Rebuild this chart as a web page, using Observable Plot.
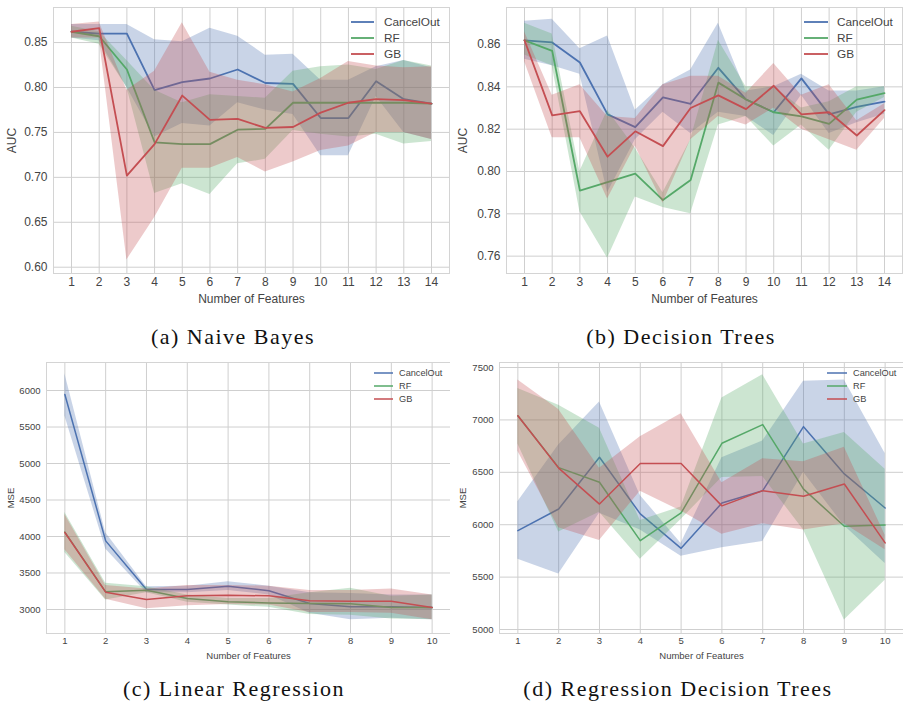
<!DOCTYPE html>
<html>
<head>
<meta charset="utf-8">
<script src="https://cdn.jsdelivr.net/npm/d3@7"></script>
<script src="https://cdn.jsdelivr.net/npm/@observablehq/plot@0.6"></script>
<style>
  html, body { margin: 0; padding: 0; background: #fff; }
  #wrap { position: relative; width: 903px; height: 704px; overflow: hidden; }
  .panel { position: absolute; }
  .caption { position: absolute; font-family: "Liberation Serif", "DejaVu Serif", serif; color: #111; text-align: center; white-space: nowrap; letter-spacing: 1.5px; }
  .legend { position: absolute; }
</style>
</head>
<body>
<div id="wrap"></div>
<script>
// ---------- shared ----------
const seriesNames = ["CancelOut", "RF", "GB"];
const seriesColors = ["#4C72B0", "#55A868", "#C44E52"];

// ---------- (a) Naive Bayes : AUC ----------
const nbX = [1,2,3,4,5,6,7,8,9,10,11,12,13,14];
const nbYTicks = [0.60, 0.65, 0.70, 0.75, 0.80, 0.85];
const nbCancelOut   = [0.862,0.860,0.860,0.797,0.806,0.810,0.820,0.805,0.804,0.766,0.766,0.807,0.787,0.782];
const nbCancelOutLo = [0.855,0.852,0.800,0.745,0.760,0.757,0.783,0.775,0.770,0.724,0.724,0.790,0.750,0.742];
const nbCancelOutHi = [0.870,0.870,0.870,0.853,0.851,0.866,0.857,0.836,0.837,0.808,0.808,0.823,0.830,0.822];
const nbRF   = [0.862,0.857,0.820,0.739,0.737,0.737,0.753,0.754,0.783,0.783,0.783,0.783,0.783,0.782];
const nbRFLo = [0.855,0.848,0.800,0.682,0.693,0.681,0.715,0.720,0.752,0.748,0.745,0.748,0.737,0.740];
const nbRFHi = [0.868,0.862,0.830,0.797,0.783,0.792,0.790,0.788,0.818,0.823,0.825,0.820,0.830,0.824];
const nbGB   = [0.862,0.866,0.702,0.737,0.791,0.764,0.765,0.755,0.756,0.772,0.783,0.787,0.786,0.782];
const nbGBLo = [0.855,0.855,0.608,0.655,0.710,0.710,0.722,0.706,0.717,0.730,0.735,0.750,0.750,0.742];
const nbGBHi = [0.870,0.873,0.797,0.818,0.872,0.817,0.808,0.803,0.795,0.810,0.829,0.824,0.822,0.823];

// ---------- (b) Decision Trees : AUC ----------
const dtX = [1,2,3,4,5,6,7,8,9,10,11,12,13,14];
const dtYTicks = [0.76, 0.78, 0.80, 0.82, 0.84, 0.86];
const dtCancelOut   = [0.862,0.861,0.8515,0.827,0.821,0.835,0.832,0.849,0.834,0.828,0.844,0.827,0.8305,0.833];
const dtCancelOutLo = [0.853,0.850,0.846,0.790,0.815,0.828,0.818,0.828,0.826,0.817,0.836,0.818,0.823,0.827];
const dtCancelOutHi = [0.871,0.872,0.858,0.864,0.829,0.841,0.848,0.870,0.838,0.840,0.846,0.838,0.838,0.840];
const dtRF   = [0.862,0.857,0.791,0.795,0.799,0.7865,0.796,0.842,0.834,0.828,0.826,0.8225,0.834,0.837];
const dtRFLo = [0.855,0.850,0.781,0.759,0.788,0.783,0.780,0.822,0.826,0.812,0.822,0.810,0.828,0.835];
const dtRFHi = [0.870,0.865,0.800,0.829,0.811,0.790,0.815,0.862,0.840,0.840,0.830,0.833,0.840,0.840];
const dtGB   = [0.862,0.8265,0.8285,0.807,0.819,0.812,0.830,0.836,0.8295,0.8405,0.827,0.828,0.817,0.829];
const dtGBLo = [0.852,0.816,0.816,0.787,0.812,0.785,0.815,0.826,0.822,0.830,0.820,0.815,0.810,0.825];
const dtGBHi = [0.866,0.836,0.841,0.826,0.825,0.841,0.845,0.845,0.837,0.851,0.836,0.841,0.824,0.832];

// ---------- (c) Linear Regression : MSE ----------
const lrX = [1,2,3,4,5,6,7,8,9,10];
const lrYTicks = [3000, 3500, 4000, 4500, 5000, 5500, 6000];
const lrCancelOut   = [5945,3940,3274,3274,3320,3256,3082,3037,3037,3027];
const lrCancelOutLo = [5650,3830,3230,3230,3260,3200,2950,2860,2880,2860];
const lrCancelOutHi = [6230,4050,3310,3320,3380,3320,3230,3220,3200,3200];
const lrRF   = [4060,3242,3265,3150,3105,3090,3082,3080,3027,3027];
const lrRFLo = [3780,3130,3230,3100,3060,3030,2930,2920,2870,2860];
const lrRFHi = [4330,3360,3310,3200,3150,3150,3230,3290,3180,3200];
const lrGB   = [4055,3237,3137,3187,3196,3187,3119,3114,3114,3027];
const lrGBLo = [3820,3140,3010,3050,3070,3060,2960,2960,2950,2860];
const lrGBHi = [4300,3330,3280,3330,3330,3320,3260,3260,3280,3200];

// ---------- (d) Regression Decision Trees : MSE ----------
const rdX = [1,2,3,4,5,6,7,8,9,10];
const rdYTicks = [5000, 5500, 6000, 6500, 7000, 7500];
const rdCancelOut   = [5944,6150,6644,6103,5775,6207,6325,6936,6485,6160];
const rdCancelOutLo = [5670,5530,6110,5950,5700,5780,5840,6500,5990,5630];
const rdCancelOutHi = [6220,6760,7170,6280,5820,6640,6800,7370,7380,6680];
const rdRF   = [7040,6545,6405,5848,6112,6777,6955,6340,5985,5998];
const rdRFLo = [6770,5930,6120,5670,6050,6450,6460,5950,5090,5470];
const rdRFHi = [7300,7140,6920,6040,6170,7210,7430,6770,6880,6530];
const rdGB   = [7040,6540,6197,6585,6585,6180,6325,6272,6389,5827];
const rdGBLo = [6700,5970,5850,6320,6130,5910,6010,5950,6010,5760];
const rdGBHi = [7380,7100,6540,6840,7060,6400,6630,6600,6740,5900];

// ---------- builder ----------
const wrap = document.getElementById("wrap");
const SVGNS = "http://www.w3.org/2000/svg";

function panel(cfg) {
  const marks = [
    Plot.gridX(cfg.x, {stroke: "#cfcfcf", strokeOpacity: 1, strokeWidth: 1}),
    Plot.gridY(cfg.yTicks, {stroke: "#cfcfcf", strokeOpacity: 1, strokeWidth: 1}),
    Plot.frame({stroke: "#d4d4d4", strokeWidth: 1})
  ];
  cfg.series.forEach((s, i) => {
    marks.push(Plot.areaY(cfg.x, {x: cfg.x, y1: s.lo, y2: s.hi, fill: seriesColors[i], fillOpacity: 0.3, curve: "linear"}));
    marks.push(Plot.lineY(cfg.x, {x: cfg.x, y: s.mean, stroke: seriesColors[i], strokeWidth: cfg.lw, curve: "linear"}));
  });
  marks.push(Plot.axisX(cfg.x, {tickSize: 0, tickPadding: cfg.tickPad, tickFormat: d => String(d),
    label: "Number of Features", labelAnchor: "center", labelArrow: "none", labelOffset: cfg.xLabelOffset,
    fontSize: cfg.tickFont, fill: "#444"}));
  marks.push(Plot.axisY(cfg.yTicks, {tickSize: 0, tickPadding: cfg.tickPad + 2, tickFormat: cfg.yFmt,
    label: cfg.yLabel, labelAnchor: "center", labelArrow: "none", labelOffset: cfg.yLabelOffset,
    fontSize: cfg.tickFont, fill: "#444"}));
  const svg = Plot.plot({
    width: cfg.width, height: cfg.height,
    marginLeft: cfg.ml, marginRight: cfg.mr, marginTop: cfg.mt, marginBottom: cfg.mb,
    style: {fontFamily: "'Liberation Sans', Arial, sans-serif", fontSize: cfg.labelFont + "px", color: "#444", background: "transparent"},
    x: {domain: cfg.xDomain},
    y: {domain: cfg.yDomain},
    marks
  });
  const div = document.createElement("div");
  div.className = "panel";
  div.style.left = cfg.left + "px";
  div.style.top = cfg.top + "px";
  div.appendChild(svg);
  wrap.appendChild(div);

  // legend (inline SVG overlay)
  const L = cfg.legend;
  const lg = document.createElementNS(SVGNS, "svg");
  lg.setAttribute("class", "legend");
  lg.setAttribute("width", 100);
  lg.setAttribute("height", 3 * L.dy + 10);
  lg.style.left = (cfg.left + L.x) + "px";
  lg.style.top = (cfg.top + L.y - 8) + "px";
  lg.style.position = "absolute";
  seriesNames.forEach((name, i) => {
    const y = 8 + i * L.dy;
    const ln = document.createElementNS(SVGNS, "line");
    ln.setAttribute("x1", 0); ln.setAttribute("x2", L.sw);
    ln.setAttribute("y1", y); ln.setAttribute("y2", y);
    ln.setAttribute("stroke", seriesColors[i]);
    ln.setAttribute("stroke-width", cfg.lw);
    lg.appendChild(ln);
    const t = document.createElementNS(SVGNS, "text");
    t.setAttribute("x", L.tx); t.setAttribute("y", y);
    t.setAttribute("dy", "0.35em");
    t.setAttribute("fill", "#444");
    t.setAttribute("font-family", "'Liberation Sans', Arial, sans-serif");
    t.setAttribute("font-size", L.font);
    t.textContent = name;
    lg.appendChild(t);
  });
  wrap.appendChild(lg);

  const cap = document.createElement("div");
  cap.className = "caption";
  cap.textContent = cfg.caption;
  cap.style.left = (cfg.capX - 200) + "px";
  cap.style.width = "400px";
  cap.style.top = cfg.capY + "px";
  cap.style.fontSize = "22px";
  wrap.appendChild(cap);
}

panel({
  left: 0, top: 0, width: 450, height: 310, ml: 53, mr: 1, mt: 7, mb: 37,
  x: nbX, xDomain: [0.35, 14.65], yTicks: nbYTicks, yDomain: [0.593, 0.889],
  yFmt: d => d.toFixed(2), yLabel: "AUC",
  series: [{mean: nbCancelOut, lo: nbCancelOutLo, hi: nbCancelOutHi},
           {mean: nbRF, lo: nbRFLo, hi: nbRFHi},
           {mean: nbGB, lo: nbGBLo, hi: nbGBHi}],
  lw: 1.8, tickFont: 12, labelFont: 12.6, tickPad: 4, xLabelOffset: 29, yLabelOffset: 46,
  legend: {x: 351, y: 22, sw: 23, tx: 33, dy: 16, font: 11.8},
  caption: "(a) Naive Bayes", capX: 233, capY: 324
});

panel({
  left: 450, top: 0, width: 453, height: 310, ml: 56, mr: 1, mt: 7, mb: 37,
  x: dtX, xDomain: [0.35, 14.65], yTicks: dtYTicks, yDomain: [0.7518, 0.8775],
  yFmt: d => d.toFixed(2), yLabel: "AUC",
  series: [{mean: dtCancelOut, lo: dtCancelOutLo, hi: dtCancelOutHi},
           {mean: dtRF, lo: dtRFLo, hi: dtRFHi},
           {mean: dtGB, lo: dtGBLo, hi: dtGBHi}],
  lw: 1.8, tickFont: 12, labelFont: 12.6, tickPad: 4, xLabelOffset: 29, yLabelOffset: 48,
  legend: {x: 354, y: 22, sw: 24, tx: 33, dy: 16, font: 11.8},
  caption: "(b) Decision Trees", capX: 681, capY: 324
});

panel({
  left: 0, top: 355, width: 450, height: 315, ml: 46, mr: 0, mt: 7, mb: 37,
  x: lrX, xDomain: [0.55, 10.45], yTicks: lrYTicks, yDomain: [2671, 6384],
  yFmt: d => String(d), yLabel: "MSE",
  series: [{mean: lrCancelOut, lo: lrCancelOutLo, hi: lrCancelOutHi},
           {mean: lrRF, lo: lrRFLo, hi: lrRFHi},
           {mean: lrGB, lo: lrGBLo, hi: lrGBHi}],
  lw: 1.5, tickFont: 9.5, labelFont: 10, tickPad: 4, xLabelOffset: 25, yLabelOffset: 39,
  legend: {x: 374, y: 18, sw: 19, tx: 25, dy: 13, font: 9.2},
  caption: "(c) Linear Regression", capX: 234, capY: 676
});

panel({
  left: 450, top: 355, width: 453, height: 315, ml: 49, mr: 0, mt: 7, mb: 37,
  x: rdX, xDomain: [0.55, 10.45], yTicks: rdYTicks, yDomain: [4962, 7548],
  yFmt: d => String(d), yLabel: "MSE",
  series: [{mean: rdCancelOut, lo: rdCancelOutLo, hi: rdCancelOutHi},
           {mean: rdRF, lo: rdRFLo, hi: rdRFHi},
           {mean: rdGB, lo: rdGBLo, hi: rdGBHi}],
  lw: 1.5, tickFont: 9.5, labelFont: 10, tickPad: 4, xLabelOffset: 25, yLabelOffset: 40,
  legend: {x: 377, y: 18, sw: 20, tx: 26, dy: 13, font: 9.2},
  caption: "(d) Regression Decision Trees", capX: 678, capY: 676
});
</script>
</body>
</html>
